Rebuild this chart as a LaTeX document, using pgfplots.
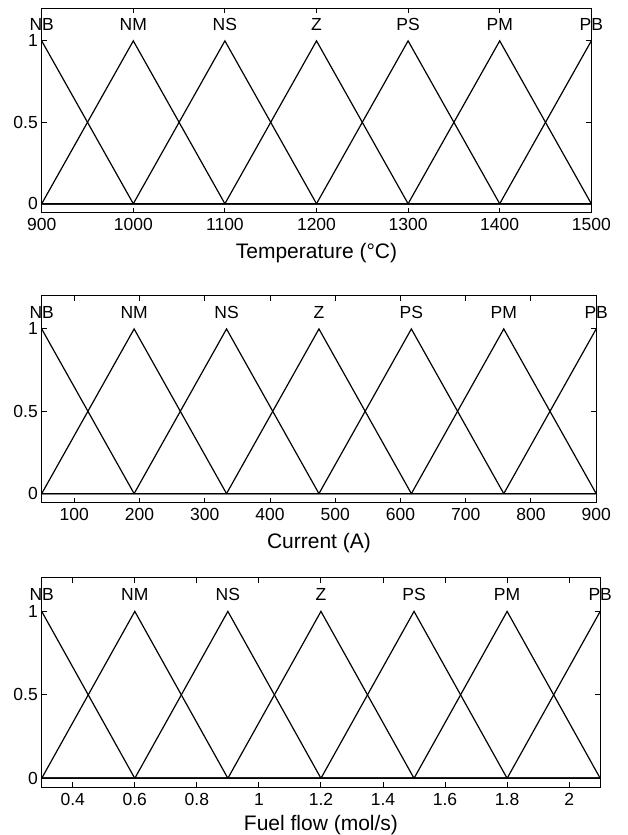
\documentclass[border=0pt]{standalone}
\usepackage{fontspec}
\setmainfont{Liberation Sans}
\usepackage{pgfplots}
\pgfplotsset{compat=1.18}
\pgfplotsset{
  mfaxis/.style={
    scale only axis,
    anchor=south west,
    ymin=-0.055, ymax=1.2,
    ytick={0,0.5,1},
    tick align=inside,
    xtick pos=both, ytick pos=both,
    major tick length=5bp,
    axis line style={line width=1bp, black},
    every tick/.style={line width=1bp, black},
    clip=false,
    scaled ticks=false,
    /pgf/number format/assume math mode=true,
    /pgf/number format/1000 sep={},
    ticklabel style={font=\fontsize{17.5bp}{21bp}\selectfont},
    xticklabel style={anchor=base, inner sep=0pt, yshift=-18bp},
    yticklabel style={anchor=east, inner sep=0pt, xshift=-3.7bp},
    xlabel style={at={(axis description cs:0.5,0)}, anchor=base, inner sep=0pt, yshift=-46bp, font=\fontsize{21bp}{25bp}\selectfont},
  },
  mf/.style={black, solid, mark=none, line width=1.2bp},
  mflabels/.style={draw=none, mark=none, nodes near coords, point meta=explicit symbolic,
    every node near coord/.append style={anchor=base, inner sep=0pt, black, font=\fontsize{17.5bp}{21bp}\selectfont}},
}
\begin{document}
\begin{tikzpicture}
\path[use as bounding box] (0,0) rectangle (628bp,835bp);
% Panel 1: Temperature
\begin{axis}[mfaxis, at={(41.7bp,622.3bp)}, width=549.6bp, height=204.4bp,
  xmin=900, xmax=1500, xtick={900,1000,...,1500}, xlabel={Temperature (°C)}]
\addplot[mf] coordinates {(900,1)(1000,0)(1500,0)};
\addplot[mf] coordinates {(900,0)(1000,1)(1100,0)(1500,0)};
\addplot[mf] coordinates {(900,0)(1000,0)(1100,1)(1200,0)(1500,0)};
\addplot[mf] coordinates {(900,0)(1100,0)(1200,1)(1300,0)(1500,0)};
\addplot[mf] coordinates {(900,0)(1200,0)(1300,1)(1400,0)(1500,0)};
\addplot[mf] coordinates {(900,0)(1300,0)(1400,1)(1500,0)};
\addplot[mf] coordinates {(900,0)(1400,0)(1500,1)};
\addplot[mflabels] coordinates {(900,1.063)[NB] (1000,1.063)[NM] (1100,1.063)[NS] (1200,1.063)[Z] (1300,1.063)[PS] (1400,1.063)[PM] (1500,1.063)[PB]};
\end{axis}
% Panel 2: Current
\begin{axis}[mfaxis, at={(41.7bp,332.3bp)}, width=554.5bp, height=206.7bp,
  xmin=50, xmax=900, xtick={100,200,...,900}, xlabel={Current (A)}]
\addplot[mf] coordinates {(50,1)(191.67,0)(900,0)};
\addplot[mf] coordinates {(50,0)(191.67,1)(333.33,0)(900,0)};
\addplot[mf] coordinates {(50,0)(191.67,0)(333.33,1)(475,0)(900,0)};
\addplot[mf] coordinates {(50,0)(333.33,0)(475,1)(616.67,0)(900,0)};
\addplot[mf] coordinates {(50,0)(475,0)(616.67,1)(758.33,0)(900,0)};
\addplot[mf] coordinates {(50,0)(616.67,0)(758.33,1)(900,0)};
\addplot[mf] coordinates {(50,0)(758.33,0)(900,1)};
\addplot[mflabels] coordinates {(50,1.063)[NB] (191.67,1.063)[NM] (333.33,1.063)[NS] (475,1.063)[Z] (616.67,1.063)[PS] (758.33,1.063)[PM] (900,1.063)[PB]};
\end{axis}
% Panel 3: Fuel flow
\begin{axis}[mfaxis, at={(41.7bp,47.5bp)}, width=558.5bp, height=209.5bp,
  xmin=0.3, xmax=2.1, xtick={0.4,0.6,0.8,1,1.2,1.4,1.6,1.8,2}, xlabel={Fuel flow (mol/s)},
  xlabel style={yshift=3.5bp}]
\addplot[mf] coordinates {(0.3,1)(0.6,0)(2.1,0)};
\addplot[mf] coordinates {(0.3,0)(0.6,1)(0.9,0)(2.1,0)};
\addplot[mf] coordinates {(0.3,0)(0.6,0)(0.9,1)(1.2,0)(2.1,0)};
\addplot[mf] coordinates {(0.3,0)(0.9,0)(1.2,1)(1.5,0)(2.1,0)};
\addplot[mf] coordinates {(0.3,0)(1.2,0)(1.5,1)(1.8,0)(2.1,0)};
\addplot[mf] coordinates {(0.3,0)(1.5,0)(1.8,1)(2.1,0)};
\addplot[mf] coordinates {(0.3,0)(1.8,0)(2.1,1)};
\addplot[mflabels] coordinates {(0.3,1.063)[NB] (0.6,1.063)[NM] (0.9,1.063)[NS] (1.2,1.063)[Z] (1.5,1.063)[PS] (1.8,1.063)[PM] (2.1,1.063)[PB]};
\end{axis}
\end{tikzpicture}
\end{document}
